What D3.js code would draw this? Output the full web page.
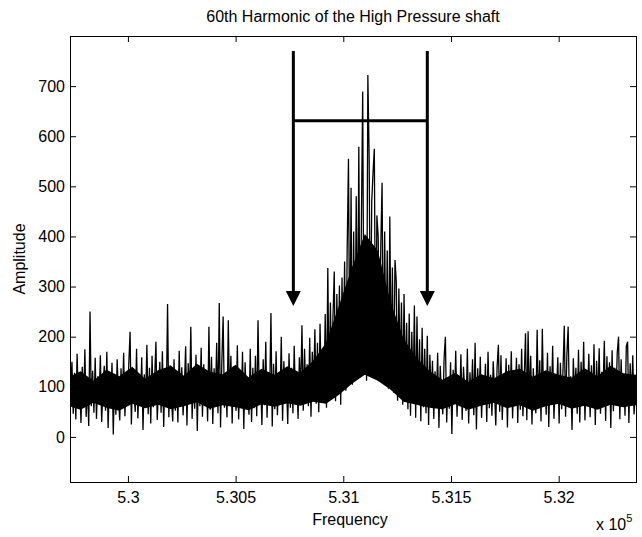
<!DOCTYPE html>
<html>
<head>
<meta charset="utf-8">
<script src="https://cdn.jsdelivr.net/npm/d3@7"></script>
<style>
  body { margin: 0; background: #fff; }
  svg { display: block; font-family: "Liberation Sans", Arial, sans-serif; }
  .axis path { display: none; }
  .axis line { stroke: #000; }
  .axis text { font-size: 16px; fill: #000; }
</style>
</head>
<body>
<svg id="chart" width="642" height="537"></svg>
<script>
// spectrum around the 60th harmonic, one value every 6 Hz
const freqStart = 529734;
const freqStep = 6;
const amplitude = [
  82, 150, 46, 128, 35, 166, 70, 112, 28, 140, 58, 175, 40, 104, 22, 250, 61, 132, 48, 158,
  36, 121, 74, 163, 30, 98, 142, 52, 170, 18, 115, 64, 148, 5, 126, 44, 155, 80, 33, 137,
  57, 168, 41, 119, 69, 146, 210, 25, 134, 88, 50, 176, 37, 109, 62, 159, 14, 125, 71, 184,
  45, 138, 27, 162, 59, 116, 190, 34, 97, 150, 48, 171, 20, 128, 66, 265, 39, 143, 77, 31,
  155, 52, 118, 29, 172, 64, 139, 43, 100, 181, 23, 147, 73, 220, 36, 126, 56, 164, 12, 133,
  61, 178, 40, 145, 84, 122, 31, 220, 54, 160, 26, 137, 70, 188, 47, 267, 19, 150, 240, 58,
  111, 39, 233, 68, 162, 27, 141, 90, 52, 183, 35, 127, 61, 170, 16, 149, 76, 113, 44, 176,
  30, 138, 57, 162, 41, 233, 72, 119, 24, 155, 63, 190, 38, 129, 83, 247, 21, 146, 55, 171,
  43, 124, 68, 200, 32, 151, 79, 110, 26, 167, 58, 138, 47, 182, 70, 126, 36, 159, 88, 223,
  52, 176, 84, 145, 61, 198, 40, 170, 95, 215, 66, 188, 49, 226, 102, 174, 73, 245, 58, 337,
  82, 268, 115, 240, 330, 71, 285, 130, 302, 64, 318, 142, 350, 92, 376, 555, 120, 497, 104, 410,
  138, 480, 162, 579, 120, 430, 689, 145, 395, 112, 722, 557, 160, 470, 527, 575, 128, 442, 400, 150,
  380, 507, 118, 410, 145, 372, 96, 440, 135, 338, 88, 353, 310, 72, 296, 120, 268, 64, 285, 95,
  228, 55, 246, 42, 210, 78, 262, 38, 240, 66, 195, 31, 218, 59, 176, 47, 202, 24, 164, 70,
  152, 36, 131, 63, 168, 18, 142, 81, 45, 158, 200, 29, 117, 56, 149, 6, 134, 72, 172, 40,
  123, 61, 165, 34, 140, 88, 52, 176, 27, 129, 70, 155, 43, 188, 15, 137, 64, 160, 38, 119,
  75, 146, 30, 170, 57, 124, 42, 151, 93, 23, 139, 184, 50, 163, 34, 112, 67, 157, 19, 144,
  60, 171, 37, 130, 82, 158, 28, 145, 54, 176, 41, 118, 207, 33, 211, 69, 162, 25, 137, 86,
  47, 214, 58, 153, 31, 216, 74, 127, 44, 168, 20, 141, 66, 182, 36, 115, 90, 159, 27, 148,
  55, 133, 222, 40, 165, 220, 62, 121, 14, 157, 79, 138, 46, 174, 29, 150, 68, 190, 33, 127,
  84, 166, 39, 143, 58, 185, 24, 152, 71, 177, 46, 130, 95, 192, 32, 161, 63, 149, 18, 173,
  51, 138, 77, 169, 200, 35, 155, 60, 126, 42, 181, 190, 28, 147, 69, 163, 45, 96
];

// dense part of the trace where the samples overlap into solid black, every 60 Hz
const coreStart = 529720;
const coreStep = 60;
const coreLow = [
  62, 54, 68, 58, 52, 66, 57, 64, 55, 61, 69, 56, 63, 59, 53, 65, 60, 67, 62,
  70, 66, 84, 106, 124, 112, 94, 70, 64, 58,
  55, 65, 54, 62, 68, 57, 63, 52, 61, 66, 56, 62, 54, 64, 59, 63
];
const coreHigh = [
  118, 131, 112, 134, 121, 140, 116, 133, 142, 122, 146, 130, 125, 144, 119, 136, 124, 141, 128,
  152, 188, 262, 338, 405, 372, 268, 196, 158, 132,
  114, 128, 110, 125, 117, 131, 136, 120, 133, 124, 118, 137, 121, 142, 127, 124
];

const xTicks = [530000, 530500, 531000, 531500, 532000];
const yTicks = [0, 100, 200, 300, 400, 500, 600, 700];

// annotation: two arrows joined by a bar
const arrowFreqs = [530768, 531390];
const arrowTop = 770;
const arrowTip = 261;
const barLevel = 631;

const plotLeft = 70, plotRight = 636, plotTop = 36, plotBottom = 482;
const tickLen = 6;

const svg = d3.select("#chart");

const x = d3.scaleLinear().domain([529731, 532359]).range([plotLeft, plotRight]);
const y = d3.scaleLinear().domain([-90, 800]).range([plotBottom, plotTop]);

svg.append("text")
  .attr("x", (plotLeft + plotRight) / 2)
  .attr("y", 22)
  .attr("text-anchor", "middle")
  .attr("font-size", 16)
  .text("60th Harmonic of the High Pressure shaft");

svg.append("clipPath").attr("id", "plot")
  .append("rect")
  .attr("x", plotLeft).attr("y", plotTop)
  .attr("width", plotRight - plotLeft).attr("height", plotBottom - plotTop);

const plot = svg.append("g").attr("clip-path", "url(#plot)");

const core = d3.area()
  .x((d, i) => x(coreStart + i * coreStep))
  .y0((d) => y(d))
  .y1((d, i) => y(coreHigh[i]));

plot.append("path")
  .datum(coreLow)
  .attr("fill", "#000")
  .attr("d", core);

const line = d3.line()
  .x((d, i) => x(freqStart + i * freqStep))
  .y((d) => y(d));

plot.append("path")
  .datum(amplitude)
  .attr("fill", "none")
  .attr("stroke", "#000")
  .attr("stroke-width", 1.3)
  .attr("stroke-linejoin", "bevel")
  .attr("d", line);

// arrows
const ann = svg.append("g").attr("stroke", "#000").attr("stroke-width", 3);
arrowFreqs.forEach((f) => {
  ann.append("line")
    .attr("x1", x(f)).attr("x2", x(f))
    .attr("y1", y(arrowTop)).attr("y2", y(arrowTip) - 12);
  svg.append("path")
    .attr("fill", "#000")
    .attr("d", `M${x(f) - 7.5},${y(arrowTip) - 15}L${x(f) + 7.5},${y(arrowTip) - 15}L${x(f)},${y(arrowTip)}Z`);
});
ann.append("line")
  .attr("x1", x(arrowFreqs[0])).attr("x2", x(arrowFreqs[1]))
  .attr("y1", y(barLevel)).attr("y2", y(barLevel));

// axes, matlab style ticks pointing inwards on every side
const fmt = (d) => String(d / 1e5);

svg.append("g").attr("class", "axis")
  .attr("transform", `translate(0,${plotBottom})`)
  .call(d3.axisBottom(x).tickValues(xTicks).tickSizeInner(-tickLen).tickSizeOuter(0).tickPadding(9.5).tickFormat(fmt));

svg.append("g").attr("class", "axis")
  .attr("transform", `translate(0,${plotTop})`)
  .call(d3.axisTop(x).tickValues(xTicks).tickSizeInner(-tickLen).tickSizeOuter(0).tickFormat(""));

svg.append("g").attr("class", "axis")
  .attr("transform", `translate(${plotLeft},0)`)
  .call(d3.axisLeft(y).tickValues(yTicks).tickSizeInner(-tickLen).tickSizeOuter(0).tickPadding(5));

svg.append("g").attr("class", "axis")
  .attr("transform", `translate(${plotRight},0)`)
  .call(d3.axisRight(y).tickValues(yTicks).tickSizeInner(-tickLen).tickSizeOuter(0).tickFormat(""));

svg.append("rect")
  .attr("x", plotLeft + 0.5).attr("y", plotTop + 0.5)
  .attr("width", plotRight - plotLeft).attr("height", plotBottom - plotTop)
  .attr("fill", "none")
  .attr("stroke", "#000");

svg.append("text")
  .attr("x", (plotLeft + plotRight) / 2 - 3)
  .attr("y", 525)
  .attr("text-anchor", "middle")
  .attr("font-size", 16)
  .text("Frequency");

svg.append("text")
  .attr("transform", `translate(25,${(plotTop + plotBottom) / 2}) rotate(-90)`)
  .attr("text-anchor", "middle")
  .attr("font-size", 16)
  .text("Amplitude");

const expo = svg.append("text").attr("x", 596).attr("y", 530).attr("font-size", 16);
expo.append("tspan").text("x 10");
expo.append("tspan").attr("font-size", 11).attr("dy", -8).text("5");
</script>
</body>
</html>
